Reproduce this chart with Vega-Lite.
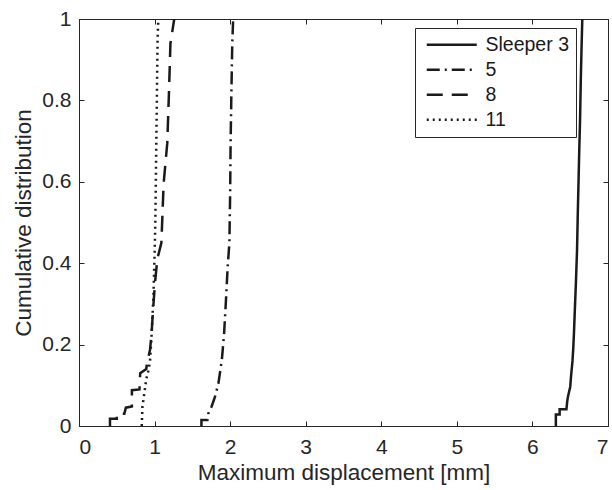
{
  "$schema": "https://vega.github.io/schema/vega-lite/v6.json",
  "width": 529,
  "height": 407,
  "autosize": {"type": "none"},
  "padding": {"left": 79, "top": 19, "right": 4, "bottom": 64},
  "background": "white",
  "config": {
    "font": "Liberation Sans",
    "view": {"stroke": "#262626", "strokeWidth": 1},
    "axis": {"grid": false, "domain": false, "tickColor": "#262626", "tickSize": -5, "labelColor": "#262626", "labelFontSize": 21, "titleFontSize": 22.5, "titleFontWeight": "normal", "titleColor": "#262626"}
  },
  "data": {"values": [
    {"s": "Sleeper 3", "i": 0, "x": 6.31, "y": 0},
    {"s": "Sleeper 3", "i": 1, "x": 6.31, "y": 0.028},
    {"s": "Sleeper 3", "i": 2, "x": 6.36, "y": 0.028},
    {"s": "Sleeper 3", "i": 3, "x": 6.36, "y": 0.041},
    {"s": "Sleeper 3", "i": 4, "x": 6.45, "y": 0.041},
    {"s": "Sleeper 3", "i": 5, "x": 6.46, "y": 0.06},
    {"s": "Sleeper 3", "i": 6, "x": 6.47, "y": 0.072},
    {"s": "Sleeper 3", "i": 7, "x": 6.5, "y": 0.096},
    {"s": "Sleeper 3", "i": 8, "x": 6.51, "y": 0.12},
    {"s": "Sleeper 3", "i": 9, "x": 6.53, "y": 0.16},
    {"s": "Sleeper 3", "i": 10, "x": 6.54, "y": 0.19},
    {"s": "Sleeper 3", "i": 11, "x": 6.55, "y": 0.23},
    {"s": "Sleeper 3", "i": 12, "x": 6.56, "y": 0.28},
    {"s": "Sleeper 3", "i": 13, "x": 6.575, "y": 0.35},
    {"s": "Sleeper 3", "i": 14, "x": 6.59, "y": 0.43},
    {"s": "Sleeper 3", "i": 15, "x": 6.6, "y": 0.52},
    {"s": "Sleeper 3", "i": 16, "x": 6.61, "y": 0.6},
    {"s": "Sleeper 3", "i": 17, "x": 6.62, "y": 0.68},
    {"s": "Sleeper 3", "i": 18, "x": 6.63, "y": 0.75},
    {"s": "Sleeper 3", "i": 19, "x": 6.64, "y": 0.85},
    {"s": "Sleeper 3", "i": 20, "x": 6.65, "y": 0.93},
    {"s": "Sleeper 3", "i": 21, "x": 6.66, "y": 1.0},
    {"s": "5", "i": 0, "x": 1.62, "y": 0},
    {"s": "5", "i": 1, "x": 1.62, "y": 0.015},
    {"s": "5", "i": 2, "x": 1.7, "y": 0.015},
    {"s": "5", "i": 3, "x": 1.71, "y": 0.03},
    {"s": "5", "i": 4, "x": 1.755, "y": 0.048},
    {"s": "5", "i": 5, "x": 1.8, "y": 0.072},
    {"s": "5", "i": 6, "x": 1.845, "y": 0.105},
    {"s": "5", "i": 7, "x": 1.89, "y": 0.162},
    {"s": "5", "i": 8, "x": 1.92, "y": 0.227},
    {"s": "5", "i": 9, "x": 1.945, "y": 0.31},
    {"s": "5", "i": 10, "x": 1.967, "y": 0.39},
    {"s": "5", "i": 11, "x": 1.99, "y": 0.45},
    {"s": "5", "i": 12, "x": 2.0, "y": 0.57},
    {"s": "5", "i": 13, "x": 2.006, "y": 0.695},
    {"s": "5", "i": 14, "x": 2.015, "y": 0.8},
    {"s": "5", "i": 15, "x": 2.028, "y": 0.94},
    {"s": "5", "i": 16, "x": 2.04, "y": 1.0},
    {"s": "8", "i": 0, "x": 0.41, "y": 0},
    {"s": "8", "i": 1, "x": 0.41, "y": 0.018},
    {"s": "8", "i": 2, "x": 0.5, "y": 0.018},
    {"s": "8", "i": 3, "x": 0.5, "y": 0.03},
    {"s": "8", "i": 4, "x": 0.6, "y": 0.03},
    {"s": "8", "i": 5, "x": 0.62, "y": 0.045},
    {"s": "8", "i": 6, "x": 0.7, "y": 0.048},
    {"s": "8", "i": 7, "x": 0.7, "y": 0.088},
    {"s": "8", "i": 8, "x": 0.8, "y": 0.09},
    {"s": "8", "i": 9, "x": 0.81, "y": 0.13},
    {"s": "8", "i": 10, "x": 0.89, "y": 0.14},
    {"s": "8", "i": 11, "x": 0.9, "y": 0.155},
    {"s": "8", "i": 12, "x": 0.94, "y": 0.187},
    {"s": "8", "i": 13, "x": 0.96, "y": 0.227},
    {"s": "8", "i": 14, "x": 0.98, "y": 0.285},
    {"s": "8", "i": 15, "x": 1.005, "y": 0.35},
    {"s": "8", "i": 16, "x": 1.036, "y": 0.41},
    {"s": "8", "i": 17, "x": 1.09, "y": 0.45},
    {"s": "8", "i": 18, "x": 1.12, "y": 0.596},
    {"s": "8", "i": 19, "x": 1.168, "y": 0.695},
    {"s": "8", "i": 20, "x": 1.19, "y": 0.817},
    {"s": "8", "i": 21, "x": 1.21, "y": 0.94},
    {"s": "8", "i": 22, "x": 1.26, "y": 1.0},
    {"s": "11", "i": 0, "x": 0.83, "y": 0},
    {"s": "11", "i": 1, "x": 0.84, "y": 0.048},
    {"s": "11", "i": 2, "x": 0.87, "y": 0.088},
    {"s": "11", "i": 3, "x": 0.89, "y": 0.115},
    {"s": "11", "i": 4, "x": 0.917, "y": 0.135},
    {"s": "11", "i": 5, "x": 0.94, "y": 0.16},
    {"s": "11", "i": 6, "x": 0.96, "y": 0.22},
    {"s": "11", "i": 7, "x": 0.985, "y": 0.32},
    {"s": "11", "i": 8, "x": 1.0, "y": 0.42},
    {"s": "11", "i": 9, "x": 1.01, "y": 0.5},
    {"s": "11", "i": 10, "x": 1.02, "y": 0.65},
    {"s": "11", "i": 11, "x": 1.03, "y": 0.8},
    {"s": "11", "i": 12, "x": 1.04, "y": 0.95},
    {"s": "11", "i": 13, "x": 1.05, "y": 1.0}
  ]},
  "layer": [
    {
      "mark": {"type": "line", "color": "#1a1a1a", "strokeWidth": 2.5, "clip": true},
      "encoding": {
        "x": {"field": "x", "type": "quantitative", "scale": {"domain": [0, 7], "nice": false, "zero": false}, "axis": {"title": "Maximum displacement [mm]", "values": [0,1,2,3,4,5,6,7], "labelPadding": 15, "titlePadding": 4}},
        "y": {"field": "y", "type": "quantitative", "scale": {"domain": [0, 1], "nice": false}, "axis": {"title": "Cumulative distribution", "values": [0,0.2,0.4,0.6,0.8,1], "labelPadding": 13, "titlePadding": 6, "labelExpr": "datum.value == 0 ? '0' : datum.value == 1 ? '1' : format(datum.value, '.1f')"}},
        "order": {"field": "i", "type": "quantitative"},
        "strokeDash": {
          "field": "s", "type": "nominal",
          "scale": {"domain": ["Sleeper 3", "5", "8", "11"], "range": [[1, 0], [13, 5, 2, 5], [16, 9], [2, 4]]},
          "legend": {"title": null, "orient": "none", "legendX": 336, "legendY": 9, "symbolType": "M-5,0H5", "symbolSize": 100, "symbolOffset": 20, "symbolStrokeWidth": 2.5, "symbolStrokeColor": "#1a1a1a", "labelFontSize": 19.5, "labelColor": "#1a1a1a", "labelOffset": 24, "rowPadding": 4, "padding": 7, "strokeColor": "#262626", "fillColor": "white", "symbolLimit": 0}
        }
      }
    },
    {
      "mark": {"type": "line", "strokeOpacity": 0},
      "encoding": {
        "x": {"field": "x", "type": "quantitative", "axis": {"orient": "top", "labels": false, "title": null, "values": [0,1,2,3,4,5,6,7]}},
        "y": {"field": "y", "type": "quantitative", "axis": {"orient": "right", "labels": false, "title": null, "values": [0,0.2,0.4,0.6,0.8,1]}},
        "detail": {"field": "s"}
      }
    }
  ],
  "resolve": {"axis": {"x": "independent", "y": "independent"}}
}
